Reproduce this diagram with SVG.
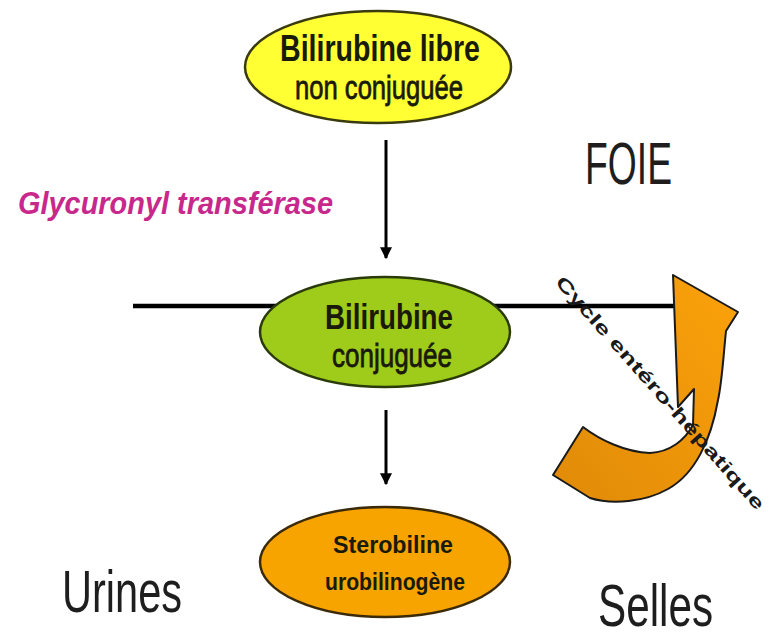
<svg xmlns="http://www.w3.org/2000/svg" width="776" height="640" viewBox="0 0 776 640">
<style>
.node-text{font-family:"Liberation Sans",Arial,sans-serif;font-weight:bold;fill:#1a1a0a;text-anchor:middle}
.big{font-family:"Liberation Sans",Arial,sans-serif;fill:#1e1e1e;font-size:60px}
.conn{stroke:#000;stroke-width:3;fill:none}
</style>
<defs>
<marker id="ah" viewBox="0 0 10 10" refX="9" refY="5" markerWidth="4" markerHeight="4.5" orient="auto" markerUnits="strokeWidth">
<path d="M0,0 L10,5 L0,10 Z" fill="#000"/>
</marker>
<linearGradient id="og" x1="0" y1="1" x2="1" y2="0">
<stop offset="0" stop-color="#e08a08"/>
<stop offset="1" stop-color="#fba20a"/>
</linearGradient>
</defs>
<rect width="776" height="640" fill="#fff"/>
<g id="connectors">
<line x1="133" y1="306" x2="680" y2="306" stroke="#000" stroke-width="4.5"/>
<line class="conn" x1="386" y1="140" x2="386" y2="258" marker-end="url(#ah)"/>
<line class="conn" x1="386" y1="410" x2="386" y2="484" marker-end="url(#ah)"/>
</g>
<g id="bilirubine-libre">
<ellipse cx="378" cy="67" rx="133" ry="56" fill="#ffff33" stroke="#3a3a10" stroke-width="2.5"/>
<text class="node-text" x="380" y="61" font-size="37" textLength="200" lengthAdjust="spacingAndGlyphs">Bilirubine libre</text>
<text class="node-text" x="379" y="99" font-size="34" textLength="168" lengthAdjust="spacingAndGlyphs" style="font-weight:normal;stroke:#1a1a0a;stroke-width:0.8">non conjuguée</text>
</g>
<g id="bilirubine-conjuguee">
<ellipse cx="385" cy="332" rx="125" ry="55" fill="#9fcc1a" stroke="#2a3a0a" stroke-width="2.5"/>
<text class="node-text" x="389" y="329" font-size="35" textLength="128" lengthAdjust="spacingAndGlyphs">Bilirubine</text>
<text class="node-text" x="392" y="367" font-size="33" textLength="120" lengthAdjust="spacingAndGlyphs" style="font-weight:normal;stroke:#1a1a0a;stroke-width:0.8">conjuguée</text>
</g>
<g id="sterobiline">
<ellipse cx="385" cy="562" rx="125" ry="55" fill="#f7a300" stroke="#3a2a0a" stroke-width="2.5"/>
<text class="node-text" x="393" y="553" font-size="23" textLength="120" lengthAdjust="spacingAndGlyphs">Sterobiline</text>
<text class="node-text" x="395" y="590" font-size="23" textLength="140" lengthAdjust="spacingAndGlyphs">urobilinogène</text>
</g>
<g id="glycuronyl">
<text x="18" y="214" font-family="Liberation Sans, Arial, sans-serif" font-size="31" font-weight="bold" font-style="italic" fill="#c8288c" textLength="315" lengthAdjust="spacingAndGlyphs">Glycuronyl transférase</text>
</g>
<g id="foie"><text class="big" x="585" y="184" textLength="87" lengthAdjust="spacingAndGlyphs">FOIE</text></g>
<g id="urines"><text class="big" x="62" y="612" textLength="120" lengthAdjust="spacingAndGlyphs">Urines</text></g>
<g id="selles"><text class="big" x="598" y="626" font-size="57" textLength="115" lengthAdjust="spacingAndGlyphs">Selles</text></g>
<g id="cycle">
<path d="M673,275 L738,312 L726,331 C723,360 722,382 718,400 C711,440 695,474 668,489 C645,502 612,505 590,498 L553,475 L583,427 C600,440 625,452 650,453 C670,452 685,440 693,425 L694,389 L678,407 Z" fill="url(#og)" stroke="#1a1a1a" stroke-width="2" stroke-linejoin="round"/>
<text transform="translate(660,393) rotate(48.5)" x="0" y="6" font-family="Liberation Sans, Arial, sans-serif" font-size="18" font-weight="bold" fill="#1a1a1a" text-anchor="middle" textLength="305" lengthAdjust="spacingAndGlyphs">Cycle entéro-hépatique</text>
</g>
</svg>
